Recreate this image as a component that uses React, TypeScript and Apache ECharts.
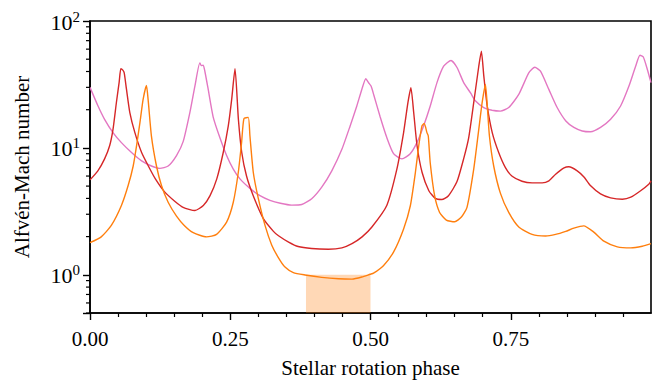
import React, { useEffect, useRef } from 'react';
import * as echarts from 'echarts';

// Stellar rotation phase (x) and Alfvén-Mach number (y)
const redPhase = [0.000, 0.014, 0.026, 0.035, 0.041, 0.047, 0.052, 0.055, 0.0585, 0.061, 0.065, 0.071, 0.080, 0.092, 0.104, 0.116, 0.133, 0.151, 0.166, 0.187, 0.202, 0.214, 0.226, 0.2375, 0.2465, 0.2525, 0.2585, 0.2645, 0.2705, 0.279, 0.291, 0.309, 0.327, 0.336, 0.354, 0.371, 0.395, 0.425, 0.449, 0.467, 0.485, 0.5025, 0.529, 0.547, 0.559, 0.5667, 0.572, 0.577, 0.583, 0.592, 0.604, 0.6155, 0.627, 0.639, 0.654, 0.666, 0.675, 0.684, 0.693, 0.6976, 0.702, 0.708, 0.717, 0.7285, 0.7405, 0.7525, 0.770, 0.788, 0.806, 0.818, 0.830, 0.845, 0.8535, 0.8685, 0.8805, 0.892, 0.910, 0.928, 0.949, 0.964, 0.9815, 0.9965, 1.0];
const redMach = [5.6, 6.6, 8.2, 10.4, 14.0, 22.7, 33, 42, 41, 39, 29, 19, 13.2, 9.2, 7.2, 5.75, 4.5, 3.8, 3.4, 3.21, 3.52, 4.21, 5.7, 9.2, 14.9, 24, 42, 16.8, 9.2, 6.0, 4.2, 2.77, 2.2, 2.03, 1.81, 1.67, 1.61, 1.59, 1.63, 1.76, 1.99, 2.38, 3.52, 6.8, 13.2, 22.7, 29.8, 19.0, 10.4, 6.4, 4.6, 4.0, 3.92, 4.2, 5.4, 8.2, 12.0, 22.7, 44, 57.8, 36.8, 21.4, 13.2, 9.2, 7.0, 5.97, 5.46, 5.3, 5.3, 5.5, 6.2, 6.95, 7.1, 6.6, 5.9, 5.05, 4.34, 4.04, 3.94, 4.09, 4.6, 5.2, 5.5];

const orangePhase = [0.000, 0.020, 0.038, 0.056, 0.068, 0.077, 0.083, 0.089, 0.0946, 0.1006, 0.1036, 0.1095, 0.1185, 0.1274, 0.1393, 0.1542, 0.168, 0.184, 0.2077, 0.2256, 0.2435, 0.2554, 0.2643, 0.2702, 0.2744, 0.2821, 0.2851, 0.2911, 0.300, 0.312, 0.324, 0.336, 0.3476, 0.3625, 0.3833, 0.413, 0.443, 0.467, 0.4845, 0.4994, 0.5054, 0.523, 0.541, 0.559, 0.571, 0.580, 0.586, 0.5917, 0.5958, 0.6006, 0.603, 0.6065, 0.6143, 0.6232, 0.6351, 0.650, 0.662, 0.672, 0.684, 0.693, 0.699, 0.7048, 0.708, 0.712, 0.7196, 0.7315, 0.7464, 0.7643, 0.788, 0.812, 0.830, 0.848, 0.8625, 0.880, 0.898, 0.916, 0.940, 0.964, 0.9845, 1.0];
const orangeMach = [1.79, 1.99, 2.45, 3.52, 5.05, 7.2, 10.4, 15.8, 24, 31, 24, 12.4, 7.2, 5.05, 3.73, 2.9, 2.45, 2.15, 1.99, 2.08, 2.6, 3.73, 6.4, 11.0, 17.0, 17.4, 12.4, 6.4, 4.0, 2.45, 1.71, 1.36, 1.15, 1.04, 0.997, 0.955, 0.931, 0.925, 0.96, 1.01, 1.03, 1.18, 1.51, 2.3, 3.5, 6.4, 10.4, 14.9, 15.6, 13.2, 12.4, 7.6, 4.2, 3.1, 2.7, 2.62, 2.85, 3.4, 6.8, 14.0, 22.7, 31.6, 22, 12.4, 7.2, 4.4, 3.1, 2.38, 2.08, 2.02, 2.08, 2.2, 2.33, 2.43, 2.17, 1.84, 1.66, 1.63, 1.68, 1.76];

const pinkPhase = [0.000, 0.0143, 0.026, 0.041, 0.056, 0.074, 0.092, 0.1095, 0.1244, 0.1393, 0.1542, 0.166, 0.178, 0.187, 0.1958, 0.1985, 0.2018, 0.2048, 0.2107, 0.2196, 0.2316, 0.2435, 0.2554, 0.2673, 0.2851, 0.303, 0.3208, 0.3393, 0.3595, 0.3774, 0.3952, 0.4131, 0.431, 0.4488, 0.4637, 0.4756, 0.4845, 0.4917, 0.4964, 0.501, 0.506, 0.5173, 0.5292, 0.5411, 0.556, 0.5708, 0.5827, 0.5946, 0.6065, 0.6185, 0.6304, 0.6435, 0.6542, 0.6661, 0.6786, 0.6869, 0.7018, 0.7167, 0.7315, 0.7464, 0.7643, 0.7821, 0.7929, 0.803, 0.8179, 0.8327, 0.8482, 0.8625, 0.8774, 0.8923, 0.9101, 0.928, 0.9458, 0.9607, 0.9726, 0.9804, 0.9863, 0.9935, 1.0];
const pinkMach = [30, 21.4, 16.8, 13.2, 11.0, 9.2, 7.9, 7.2, 6.9, 7.2, 8.7, 11.2, 19, 30.7, 46.8, 44.5, 44.8, 40, 28.9, 17.5, 12, 8.7, 6.8, 5.7, 4.8, 4.2, 3.86, 3.66, 3.54, 3.58, 3.97, 4.9, 6.6, 9.7, 14.9, 21.4, 28.9, 35.1, 32.7, 30.7, 26, 17.5, 12.0, 9.0, 8.2, 9.0, 11, 14.9, 21.4, 32.7, 44, 48.9, 43, 32.7, 27, 23.5, 20.8, 19.8, 19.5, 20.8, 26.4, 39, 43.2, 40.2, 28.9, 20.8, 16.3, 14.5, 13.6, 13.4, 14.5, 16.8, 21.4, 30.7, 44, 53.7, 52, 41.5, 32.7];

const shadedPhase = [0.385, 0.5];
const shadedMach = [0.5, 1.0];

const xTickValues = [0, 0.25, 0.5, 0.75];
const yMinorTicks = [0.5, 0.6, 0.7, 0.8, 0.9, 2, 3, 4, 5, 6, 7, 8, 9, 20, 30, 40, 50, 60, 70, 80, 90];

const FONT = '"Liberation Serif", "Times New Roman", Times, serif';

function pairs(xs: number[], ys: number[]) {
  return xs.map((x, i) => [x, ys[i]]);
}

export default function App() {
  const ref = useRef<HTMLDivElement>(null);
  useEffect(() => {
    document.body.style.margin = '0';
    const chart = echarts.init(ref.current as HTMLDivElement, null, { renderer: 'svg' });
    const lineSeries = (name: string, color: string, xs: number[], ys: number[]) => ({
      name,
      type: 'line',
      data: pairs(xs, ys),
      showSymbol: false,
      symbol: 'none',
      smooth: 0.2,
      lineStyle: { color, width: 1.4 },
      itemStyle: { color },
      z: 3,
    });
    chart.setOption({
      animation: false,
      textStyle: { fontFamily: FONT },
      grid: {
        left: 90,
        top: 21,
        width: 561,
        height: 293,
        show: true,
        borderColor: '#000',
        borderWidth: 1.6,
        backgroundColor: 'transparent',
      },
      xAxis: {
        type: 'value',
        min: 0,
        max: 1,
        interval: 0.25,
        name: 'Stellar rotation phase',
        nameLocation: 'middle',
        nameGap: 44,
        nameTextStyle: { fontSize: 21, color: '#000', fontFamily: FONT },
        axisLine: { show: true, lineStyle: { color: '#000', width: 1.6 } },
        axisTick: { show: true, length: 7, lineStyle: { color: '#000', width: 1.4 }, customValues: xTickValues },
        minorTick: { show: true, splitNumber: 5, length: 4, lineStyle: { color: '#000', width: 1.2 } },
        axisLabel: {
          customValues: xTickValues,
          formatter: (v: number) => (v >= 0.999 ? '' : v.toFixed(2)),
          fontSize: 21,
          color: '#000',
          margin: 15,
          fontFamily: FONT,
        },
        splitLine: { show: false },
        minorSplitLine: { show: false },
      },
      yAxis: {
        type: 'log',
        logBase: 10,
        min: 0.5,
        max: 100,
        name: 'Alfvén-Mach number',
        nameLocation: 'middle',
        nameGap: 58,
        nameRotate: 90,
        nameTextStyle: { fontSize: 21, color: '#000', fontFamily: FONT },
        axisLine: { show: true, lineStyle: { color: '#000', width: 1.6 } },
        axisTick: { show: true, length: 7, lineStyle: { color: '#000', width: 1.4 } },
        minorTick: { show: false },
        axisLabel: {
          margin: 10,
          color: '#000',
          formatter: (v: number) => {
            const e = Math.log10(v);
            const r = Math.round(e);
            if (Math.abs(e - r) > 1e-6) return '';
            return '{b|10}{s|' + r + '}';
          },
          rich: {
            b: { fontSize: 22, fontFamily: FONT, color: '#000', lineHeight: 24, verticalAlign: 'bottom' },
            s: { fontSize: 15, fontFamily: FONT, color: '#000', lineHeight: 14, verticalAlign: 'top' },
          },
        },
        splitLine: { show: false },
      },
      series: [
        {
          type: 'line',
          data: [],
          symbol: 'none',
          silent: true,
          markArea: {
            silent: true,
            itemStyle: { color: 'rgba(255,127,14,0.3)' },
            data: [[{ coord: [shadedPhase[0], shadedMach[0]] }, { coord: [shadedPhase[1], shadedMach[1]] }]],
          },
          z: 1,
        },
        lineSeries('pink', '#e377c2', pinkPhase, pinkMach),
        lineSeries('red', '#d62728', redPhase, redMach),
        lineSeries('orange', '#ff7f0e', orangePhase, orangeMach),
        {
          type: 'custom',
          coordinateSystem: 'cartesian2d',
          clip: false,
          silent: true,
          data: yMinorTicks.map((v) => [0, v]),
          renderItem: (_params: any, api: any) => {
            const p = api.coord([0, api.value(1)]);
            return {
              type: 'line',
              shape: { x1: p[0] - 4, y1: p[1], x2: p[0], y2: p[1] },
              style: { stroke: '#000', lineWidth: 1.2 },
            };
          },
          z: 5,
        },
      ],
    });
    return () => chart.dispose();
  }, []);
  return <div ref={ref} style={{ width: 660, height: 383 }} />;
}
